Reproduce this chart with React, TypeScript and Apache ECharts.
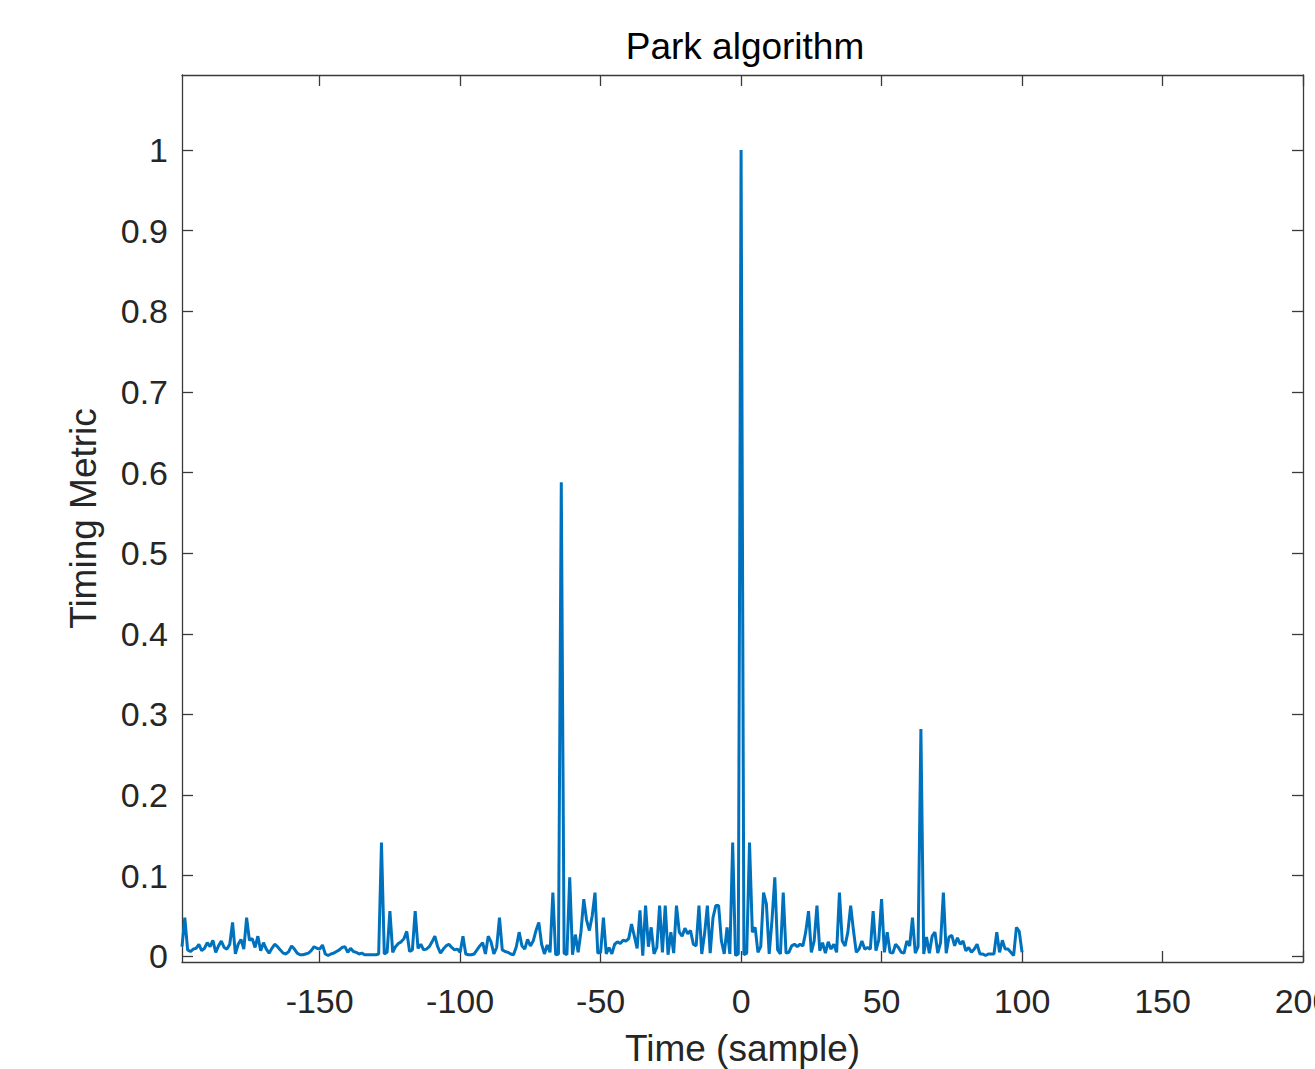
import React, { useEffect, useRef } from "react";
import * as echarts from "echarts";

const TITLE = "Park algorithm";
const X_NAME = "Time (sample)";
const Y_NAME = "Timing Metric";
const X_TICKS = [-150, -100, -50, 0, 50, 100, 150, 200];
const Y_TICKS = [0, 0.1, 0.2, 0.3, 0.4, 0.5, 0.6, 0.7, 0.8, 0.9, 1];
const X_MIN = -199;
const X_MAX = 200;
const Y_MIN = -0.007;
const Y_MAX = 1.093;
const FIRST_SAMPLE = -199;

// Timing metric for samples -199 .. 100
const METRIC = [
  0.012, 0.048, 0.008, 0.006, 0.009, 0.010, 0.015, 0.007, 0.010, 0.017,
  0.012, 0.020, 0.005, 0.013, 0.019, 0.011, 0.009, 0.015, 0.042, 0.003,
  0.015, 0.021, 0.009, 0.048, 0.020, 0.022, 0.011, 0.025, 0.007, 0.017,
  0.009, 0.004, 0.010, 0.015, 0.012, 0.008, 0.004, 0.003, 0.006, 0.013,
  0.009, 0.004, 0.002, 0.002, 0.003, 0.004, 0.007, 0.012, 0.010, 0.009,
  0.014, 0.003, 0.001, 0.003, 0.004, 0.006, 0.008, 0.011, 0.012, 0.005,
  0.010, 0.006, 0.005, 0.003, 0.004, 0.002, 0.002, 0.002, 0.002, 0.002,
  0.003, 0.141, 0.003, 0.005, 0.056, 0.005, 0.012, 0.016, 0.018, 0.022,
  0.031, 0.006, 0.008, 0.056, 0.010, 0.015, 0.008, 0.009, 0.012, 0.018,
  0.025, 0.012, 0.004, 0.009, 0.013, 0.015, 0.011, 0.008, 0.009, 0.005,
  0.025, 0.003, 0.002, 0.002, 0.003, 0.008, 0.013, 0.017, 0.003, 0.025,
  0.018, 0.003, 0.011, 0.048, 0.008, 0.006, 0.005, 0.003, 0.002, 0.012,
  0.030, 0.013, 0.009, 0.021, 0.013, 0.019, 0.032, 0.042, 0.015, 0.003,
  0.014, 0.005, 0.079, 0.002, 0.003, 0.588, 0.004, 0.002, 0.098, 0.002,
  0.027, 0.005, 0.030, 0.071, 0.045, 0.032, 0.050, 0.079, 0.004, 0.005,
  0.048, 0.003, 0.011, 0.003, 0.015, 0.018, 0.016, 0.020, 0.019, 0.022,
  0.040, 0.025, 0.010, 0.057, 0.001, 0.063, 0.012, 0.036, 0.003, 0.011,
  0.063, 0.005, 0.063, 0.002, 0.030, 0.004, 0.063, 0.030, 0.025, 0.035,
  0.028, 0.032, 0.015, 0.013, 0.063, 0.003, 0.028, 0.063, 0.004, 0.048,
  0.063, 0.063, 0.019, 0.003, 0.036, 0.003, 0.141, 0.001, 0.003,
  1.0,
  0.002, 0.004, 0.141, 0.030, 0.036, 0.005, 0.012, 0.079, 0.065, 0.003,
  0.045, 0.098, 0.008, 0.003, 0.079, 0.004, 0.005, 0.013, 0.015, 0.012,
  0.015, 0.013, 0.030, 0.056, 0.005, 0.019, 0.063, 0.007, 0.017, 0.004,
  0.018, 0.009, 0.015, 0.005, 0.079, 0.019, 0.013, 0.030, 0.063, 0.032,
  0.005, 0.009, 0.019, 0.009, 0.011, 0.009, 0.056, 0.007, 0.020, 0.071,
  0.005, 0.030, 0.005, 0.004, 0.015, 0.011, 0.005, 0.004, 0.019, 0.013,
  0.048, 0.004, 0.012, 0.282, 0.003, 0.024, 0.004, 0.025, 0.030, 0.004,
  0.017, 0.079, 0.004, 0.024, 0.026, 0.013, 0.023, 0.015, 0.019, 0.007,
  0.011, 0.005, 0.009, 0.015, 0.003, 0.003, 0.001, 0.003, 0.003, 0.003,
  0.030, 0.005, 0.020, 0.009, 0.009, 0.005, 0.001, 0.036, 0.031, 0.005,
];

const FONT = "'Liberation Sans', Arial, Helvetica, sans-serif";
const AXIS_COLOR = "#3a3a3a";
const TEXT_COLOR = "#262626";
const LINE_COLOR = "#0072BD";

export default function App() {
  const ref = useRef<HTMLDivElement>(null);

  useEffect(() => {
    if (!ref.current) return;
    const chart = echarts.init(ref.current, null, { renderer: "svg" });
    const data = METRIC.map((v, i) => [FIRST_SAMPLE + i, v]);

    const axisLine = { show: true, onZero: false, lineStyle: { color: AXIS_COLOR, width: 1.3 } };

    chart.setOption({
      animation: false,
      backgroundColor: "#ffffff",
      title: {
        text: TITLE,
        left: 740,
        top: 23,
        textAlign: "center",
        textStyle: { fontFamily: FONT, fontSize: 37, fontWeight: "normal", color: "#000000" },
      },
      grid: {
        left: 182,
        right: 12,
        top: 75,
        bottom: 107,
        containLabel: false,
        outerBoundsMode: "none",
      },
      xAxis: [
        {
          type: "value",
          position: "bottom",
          min: X_MIN,
          max: X_MAX,
          axisLine,
          axisTick: { show: true, inside: true, length: 11, customValues: X_TICKS, lineStyle: { color: AXIS_COLOR, width: 1.3 } },
          axisLabel: {
            show: true,
            customValues: X_TICKS,
            margin: 22,
            fontSize: 34,
            fontFamily: FONT,
            color: TEXT_COLOR,
            showMinLabel: true,
            showMaxLabel: true,
          },
          splitLine: { show: false },
          name: X_NAME,
          nameLocation: "middle",
          nameGap: 68,
          nameTextStyle: { fontSize: 37, fontFamily: FONT, color: TEXT_COLOR },
        },
        {
          type: "value",
          position: "top",
          min: X_MIN,
          max: X_MAX,
          axisLine,
          axisTick: { show: true, inside: true, length: 11, customValues: X_TICKS, lineStyle: { color: AXIS_COLOR, width: 1.3 } },
          axisLabel: { show: false },
          splitLine: { show: false },
        },
      ],
      yAxis: [
        {
          type: "value",
          position: "left",
          min: Y_MIN,
          max: Y_MAX,
          axisLine,
          axisTick: { show: true, inside: true, length: 11, customValues: Y_TICKS, lineStyle: { color: AXIS_COLOR, width: 1.3 } },
          axisLabel: {
            show: true,
            customValues: Y_TICKS,
            margin: 14,
            fontSize: 34,
            fontFamily: FONT,
            color: TEXT_COLOR,
          },
          splitLine: { show: false },
          name: Y_NAME,
          nameLocation: "middle",
          nameGap: 80,
          nameTextStyle: { fontSize: 37, fontFamily: FONT, color: TEXT_COLOR },
        },
        {
          type: "value",
          position: "right",
          min: Y_MIN,
          max: Y_MAX,
          axisLine,
          axisTick: { show: true, inside: true, length: 11, customValues: Y_TICKS, lineStyle: { color: AXIS_COLOR, width: 1.3 } },
          axisLabel: { show: false },
          splitLine: { show: false },
        },
      ],
      series: [
        {
          type: "line",
          xAxisIndex: 0,
          yAxisIndex: 0,
          data,
          showSymbol: false,
          symbol: "none",
          lineStyle: { color: LINE_COLOR, width: 3 },
          emphasis: { disabled: true },
        },
      ],
    });

    return () => chart.dispose();
  }, []);

  return (
    <div
      ref={ref}
      style={{ position: "absolute", left: 0, top: 0, width: 1315, height: 1069, background: "#fff" }}
    />
  );
}
